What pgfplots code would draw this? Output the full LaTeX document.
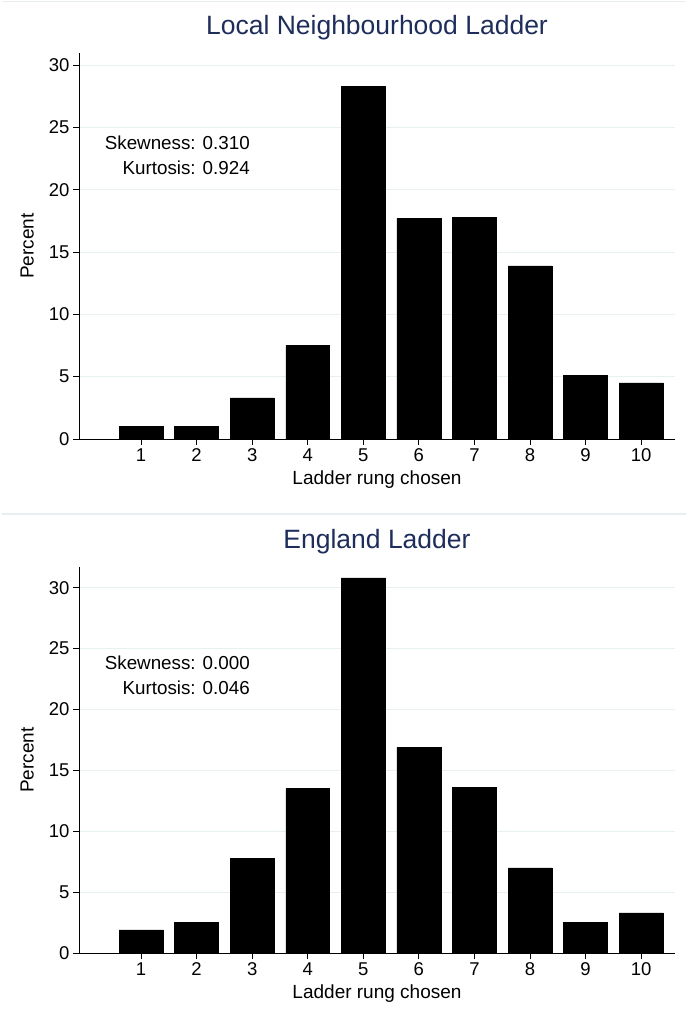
\documentclass[border=0pt]{standalone}
\usepackage{fontspec}
\setmainfont{Liberation Sans}
\usepackage{pgfplots}
\pgfplotsset{compat=1.18}
\definecolor{titlenavy}{RGB}{30,45,90}
\definecolor{gridc}{RGB}{232,240,242}
\definecolor{sepc}{RGB}{232,238,240}
\tikzset{annot/.style={anchor=east, font=\fontsize{18.8bp}{20bp}\selectfont}}
\pgfplotsset{
  ladder/.style={
    scale only axis,
    width=596bp,
    height=386bp,
    anchor=south west,
    xmin=-0.116, xmax=10.61,
    ymin=0,
    axis x line*=bottom,
    axis y line*=left,
    axis line style={-, black, line width=0.8bp},
    tick align=outside,
    major tick length=6bp,
    tick style={black, line width=0.8bp},
    xtick={1,2,3,4,5,6,7,8,9,10},
    ytick={0,5,10,15,20,25,30},
    ymajorgrids=true,
    grid style={gridc, line width=0.9bp},
    /pgf/number format/assume math mode=true,
    tick label style={font=\fontsize{18.5bp}{20bp}\selectfont},
    xlabel={Ladder rung chosen},
    ylabel={Percent},
    label style={font=\fontsize{19bp}{21bp}\selectfont},
    xlabel style={at={(axis description cs:0.5,-0.104)}, anchor=center},
    ylabel style={at={(axis description cs:-0.087,0.5)}, anchor=center},
    title style={font=\fontsize{26.5bp}{28bp}\selectfont, color=titlenavy, at={(axis description cs:0.5,1.051)}, anchor=center, yshift=0pt},
    clip=false,
  },
  ladderbar/.style={ybar, bar width=0.79, fill=black, draw=black, line width=0.4bp},
}
\begin{document}
\begin{tikzpicture}
\draw[sepc, line width=1bp] (2bp,1015bp) -- (686bp,1015bp);
\draw[sepc, line width=1.5bp] (2bp,503bp) -- (686bp,503bp);
\begin{axis}[ladder, at={(79bp,578bp)}, ymax=30.98, title={Local Neighbourhood Ladder}]
\addplot[ladderbar] coordinates {
(1,1.0) (2,1.0) (3,3.3) (4,7.5) (5,28.3) (6,17.7) (7,17.8) (8,13.9) (9,5.1) (10,4.5)
};
\node[annot] at (axis cs:3.02,23.8) {Skewness: 0.310};
\node[annot] at (axis cs:3.02,21.8) {Kurtosis: 0.924};
\end{axis}
\begin{axis}[ladder, at={(79bp,64bp)}, ymax=31.7, title={England Ladder}]
\addplot[ladderbar] coordinates {
(1,1.9) (2,2.5) (3,7.8) (4,13.5) (5,30.8) (6,16.9) (7,13.6) (8,7.0) (9,2.5) (10,3.3)
};
\node[annot] at (axis cs:3.02,23.8) {Skewness: 0.000};
\node[annot] at (axis cs:3.02,21.8) {Kurtosis: 0.046};
\end{axis}
\pgfresetboundingbox
\path (0,0) rectangle (688bp,1017bp);
\end{tikzpicture}
\end{document}
